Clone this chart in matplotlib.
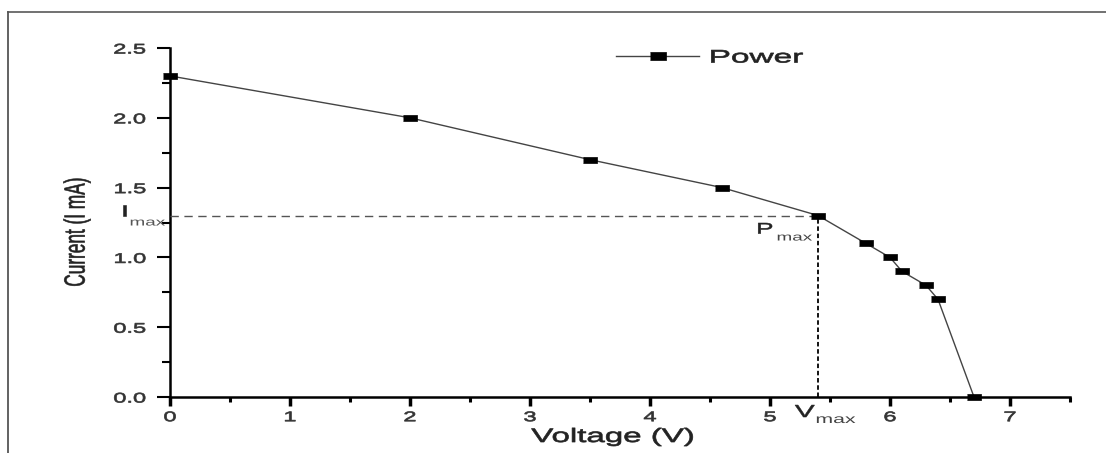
import matplotlib
matplotlib.use("Agg")
import matplotlib.pyplot as plt
from matplotlib.patheffects import AbstractPathEffect
from matplotlib.transforms import Affine2D
from matplotlib.lines import Line2D
import numpy as np

# ---- data ----
voltage = [0.0, 2.0, 3.5, 4.6, 5.4, 5.8, 6.0, 6.1, 6.3, 6.4, 6.7]
current = [2.3, 2.0, 1.7, 1.5, 1.3, 1.1, 1.0, 0.9, 0.8, 0.7, 0.0]
series_label = "Power"
v_max = 5.4
i_max = 1.3
x_major = [0, 1, 2, 3, 4, 5, 6, 7]
y_major = [0.0, 0.5, 1.0, 1.5, 2.0, 2.5]
x_tick_labels = ["0", "1", "2", "3", "4", "5", "6", "7"]
y_tick_labels = ["0.0", "0.5", "1.0", "1.5", "2.0", "2.5"]


class HStretch(AbstractPathEffect):
    """Stretch rendered glyphs horizontally (the reference image is stretched)."""
    def __init__(self, sx, anchor="center", stroke=0.0):
        super().__init__()
        self.sx = sx
        self.anchor = anchor
        self.stroke = stroke

    def draw_path(self, renderer, gc, tpath, affine, rgbFace=None):
        ext = tpath.get_extents(affine)
        if self.anchor == "left":
            x0 = ext.x0
        elif self.anchor == "right":
            x0 = ext.x1
        else:
            x0 = 0.5 * (ext.x0 + ext.x1)
        aff = affine + Affine2D().translate(-x0, 0).scale(self.sx, 1).translate(x0, 0)
        if self.stroke > 0 and rgbFace is not None:
            gc0 = renderer.new_gc()
            gc0.copy_properties(gc)
            gc0.set_linewidth(self.stroke)
            gc0.set_foreground(rgbFace)
            renderer.draw_path(gc0, tpath, aff, rgbFace)
            gc0.restore()
        else:
            renderer.draw_path(gc, tpath, aff, rgbFace)


SX = 1.7
plt.rcParams["font.family"] = ["Liberation Sans", "DejaVu Sans"]

W, H = 1106, 453
fig = plt.figure(figsize=(W / 100, H / 100), dpi=100)
ax = fig.add_axes([170 / W, 1 - 397 / H, (1070 - 170) / W, (397 - 48) / H])

# frame border of the picture
fig.add_artist(Line2D([8 / W, 1.0], [1 - 12 / H, 1 - 12 / H], transform=fig.transFigure,
                      color="#666666", lw=1.3))
fig.add_artist(Line2D([8 / W, 8 / W], [0.0, 1 - 12 / H], transform=fig.transFigure,
                      color="#555555", lw=1.3))

rect = [(-1, -0.52), (1, -0.52), (1, 0.52), (-1, 0.52)]
ax.plot(voltage, current, color="#444444", lw=1.0, marker=rect, markersize=9.5,
        markerfacecolor="black", markeredgecolor="black", markeredgewidth=0.5,
        label=series_label, clip_on=False, zorder=5)

# guide lines to maximum power point
ax.plot([0, v_max], [i_max, i_max], color="#555555", lw=1.0, dashes=(6, 4), zorder=3)
ax.plot([v_max, v_max], [0, i_max], color="black", lw=1.3, dashes=(2.5, 1.5), zorder=3)

ax.set_xlim(0, 7.5)
ax.set_ylim(0, 2.5)
for s in ["top", "right"]:
    ax.spines[s].set_visible(False)
ax.spines["left"].set_linewidth(1.8)
ax.spines["bottom"].set_linewidth(1.8)

ax.set_xticks(x_major)
ax.set_xticklabels(x_tick_labels)
ax.set_xticks(np.arange(0.5, 7.6, 1.0), minor=True)
ax.set_yticks(y_major)
ax.set_yticklabels(y_tick_labels)
ax.set_yticks([0.25, 0.75, 1.25, 1.75, 2.25], minor=True)

ax.tick_params(axis="x", which="major", direction="out", length=6.5, width=2.5,
               labelsize=10, pad=3, colors="black", labelcolor="#333333")
ax.tick_params(axis="x", which="minor", direction="out", length=3.5, width=2.2, colors="black")
ax.tick_params(axis="y", which="major", direction="out", length=9.5, width=1.5,
               labelsize=10, pad=8, colors="black", labelcolor="#333333")
ax.tick_params(axis="y", which="minor", direction="out", length=6, width=1.5, colors="black")

for lbl in ax.get_xticklabels():
    lbl.set_path_effects([HStretch(SX, "center", 0.5)])
for lbl in ax.get_yticklabels():
    lbl.set_path_effects([HStretch(SX, "right", 0.5)])

ax.set_xlabel("Voltage (V)", fontsize=14, color="#222222")
ax.xaxis.set_label_coords((613 - 170) / 900, -(442 - 397) / 349, transform=ax.transAxes)
ax.xaxis.label.set_va("baseline")
ax.xaxis.label.set_path_effects([HStretch(SX, "center", 0.5)])

ax.set_ylabel("Current (I mA)", fontsize=12.4, color="#222222")
ax.yaxis.set_label_coords(-(170 - 77) / 900, (397 - 232) / 349, transform=ax.transAxes)
ax.yaxis.label.set_va("center")
ax.yaxis.label.set_ha("center")
ax.yaxis.label.set_path_effects([HStretch(SX, "center", 0.4)])

# annotations (main letter + lowered subscript), offsets in pixels from anchor points
ann = [
    ((0.0, i_max), "I", (-48, 0), 10.5, "#222222", 0.4),
    ((0.0, i_max), "max", (-40, -10), 8.0, "#555555", 0.0),
    ((v_max, i_max), "P", (-61, -18), 11.0, "#222222", 0.4),
    ((v_max, i_max), "max", (-41, -25), 8.0, "#444444", 0.0),
    ((v_max, 0.0), "V", (-23, -20), 12.5, "#222222", 0.4),
    ((v_max, 0.0), "max", (-2, -26), 9.0, "#444444", 0.0),
]
for xy, s, off, fs, col, stk in ann:
    t = ax.annotate(s, xy=xy, xytext=off, textcoords="offset pixels", fontsize=fs,
                    color=col, ha="left", va="baseline", annotation_clip=False)
    t.set_path_effects([HStretch(SX, "left", stk)])

leg = ax.legend(loc="center left", bbox_to_anchor=(616 / W, 1 - 58 / H),
                bbox_transform=fig.transFigure, frameon=False, fontsize=13,
                handlelength=4.6, handletextpad=0.6, borderpad=0, borderaxespad=0)
for txt in leg.get_texts():
    txt.set_color("#222222")
    txt.set_path_effects([HStretch(1.85, "left", 0.5)])
for h in leg.legend_handles:
    try:
        h.set_markersize(12)
    except Exception:
        pass

fig.savefig("out.png", dpi=100)
